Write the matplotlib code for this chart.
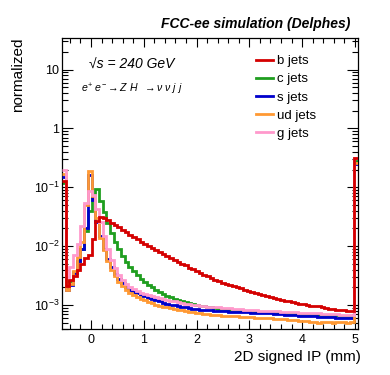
import numpy as np
import matplotlib
matplotlib.use("Agg")
import matplotlib.pyplot as plt
from matplotlib.ticker import FixedLocator, FixedFormatter, MultipleLocator

plt.rcParams['font.family'] = ['Liberation Sans', 'DejaVu Sans']
plt.rcParams['mathtext.fontset'] = 'custom'
plt.rcParams['mathtext.rm'] = 'Liberation Sans'
plt.rcParams['mathtext.it'] = 'Liberation Sans:italic'
plt.rcParams['mathtext.bf'] = 'Liberation Sans:bold'

# ---- data ----
x_min, x_max, n_bins = -0.55, 5.05, 80

b_jets = [0.13, 0.0021, 0.0027, 0.0031, 0.0040, 0.0050, 0.0062, 0.0072, 0.013, 0.027,
          0.031, 0.030, 0.028, 0.025, 0.023, 0.021, 0.019, 0.0172, 0.0156, 0.0143,
          0.0131, 0.0119, 0.0109, 0.0101, 0.0093, 0.0086, 0.0080, 0.0073, 0.0069, 0.0063,
          0.0059, 0.0054, 0.0050, 0.0047, 0.0043, 0.0041, 0.0038, 0.0035, 0.0033, 0.0031,
          0.0029, 0.0027, 0.0026, 0.0024, 0.0023, 0.0022, 0.0021, 0.0020, 0.00192, 0.00182,
          0.00175, 0.00166, 0.00160, 0.00152, 0.00148, 0.00141, 0.00137, 0.00132, 0.00126, 0.00124,
          0.00119, 0.00116, 0.00111, 0.00110, 0.00105, 0.00103, 0.00100, 0.00098, 0.00095, 0.00095,
          0.00091, 0.00090, 0.00087, 0.00087, 0.00084, 0.00082, 0.00081, 0.00079, 0.00078, 0.31]

c_jets = [0.12, 0.0020, 0.0026, 0.0036, 0.0055, 0.009, 0.018, 0.040, 0.065, 0.092,
          0.058, 0.038, 0.025, 0.017, 0.0118, 0.0088, 0.0068, 0.0054, 0.0045, 0.0038,
          0.0032, 0.0028, 0.0025, 0.0022, 0.0020, 0.00182, 0.00168, 0.00155, 0.00145, 0.00136,
          0.00128, 0.00122, 0.00116, 0.00111, 0.00107, 0.00104, 0.00100, 0.00097, 0.00095, 0.00093,
          0.00091, 0.00088, 0.00087, 0.00085, 0.00084, 0.00083, 0.00081, 0.00081, 0.00080, 0.00079,
          0.00078, 0.00078, 0.00077, 0.00077, 0.00076, 0.00076, 0.00075, 0.00075, 0.00074, 0.00073,
          0.00073, 0.00072, 0.00072, 0.00071, 0.00071, 0.00070, 0.00070, 0.00069, 0.00069, 0.00068,
          0.00068, 0.00068, 0.00067, 0.00067, 0.00067, 0.00066, 0.00066, 0.00066, 0.00065, 0.28]

s_jets = [0.15, 0.0018, 0.0022, 0.0035, 0.0056, 0.0090, 0.020, 0.16, 0.060, 0.026,
          0.0147, 0.0090, 0.0060, 0.0044, 0.0034, 0.0028, 0.0024, 0.0020, 0.00180, 0.00168,
          0.00158, 0.00148, 0.00140, 0.00132, 0.00126, 0.00120, 0.00115, 0.00110, 0.00106, 0.00102,
          0.00099, 0.00096, 0.00093, 0.00091, 0.00089, 0.00087, 0.00086, 0.00084, 0.00083, 0.00082,
          0.00081, 0.00080, 0.00079, 0.00079, 0.00078, 0.00077, 0.00077, 0.00076, 0.00076, 0.00075,
          0.00075, 0.00074, 0.00074, 0.00073, 0.00073, 0.00072, 0.00072, 0.00071, 0.00070, 0.00070,
          0.00069, 0.00068, 0.00068, 0.00067, 0.00066, 0.00065, 0.00065, 0.00064, 0.00064, 0.00063,
          0.00063, 0.00062, 0.00062, 0.00062, 0.00061, 0.00061, 0.00061, 0.00060, 0.00060, 0.25]

ud_jets = [0.17, 0.0018, 0.0023, 0.0038, 0.0065, 0.012, 0.050, 0.19, 0.070, 0.030,
           0.0140, 0.0085, 0.0055, 0.0040, 0.0031, 0.0025, 0.0021, 0.0018, 0.00160, 0.00148,
           0.00138, 0.00128, 0.00120, 0.00113, 0.00107, 0.00102, 0.00098, 0.00094, 0.00091, 0.00088,
           0.00085, 0.00083, 0.00081, 0.00079, 0.00077, 0.00076, 0.00074, 0.00073, 0.00071, 0.00070,
           0.00069, 0.00068, 0.00067, 0.00066, 0.00065, 0.00065, 0.00064, 0.00064, 0.00063, 0.00063,
           0.00062, 0.00062, 0.00061, 0.00061, 0.00061, 0.00060, 0.00060, 0.00059, 0.00058, 0.00057,
           0.00057, 0.00056, 0.00055, 0.00055, 0.00054, 0.00053, 0.00053, 0.00052, 0.00051, 0.00050,
           0.00051, 0.00052, 0.00051, 0.00050, 0.00051, 0.00052, 0.00051, 0.00050, 0.00051, 0.26]

g_jets = [0.20, 0.0030, 0.0045, 0.0070, 0.011, 0.022, 0.055, 0.085, 0.075, 0.042,
          0.026, 0.015, 0.0090, 0.0058, 0.0042, 0.0033, 0.0027, 0.0023, 0.0020, 0.00185,
          0.00172, 0.00162, 0.00153, 0.00146, 0.00140, 0.00135, 0.00130, 0.00126, 0.00122, 0.00118,
          0.00115, 0.00112, 0.00109, 0.00106, 0.00103, 0.00101, 0.00099, 0.00097, 0.00095, 0.00094,
          0.00093, 0.00092, 0.00091, 0.00090, 0.00089, 0.00088, 0.00087, 0.00086, 0.00085, 0.00084,
          0.00083, 0.00082, 0.00081, 0.00080, 0.00080, 0.00079, 0.00079, 0.00078, 0.00078, 0.00077,
          0.00077, 0.00076, 0.00076, 0.00075, 0.00074, 0.00074, 0.00073, 0.00073, 0.00072, 0.00072,
          0.00071, 0.00071, 0.00070, 0.00070, 0.00070, 0.00069, 0.00069, 0.00069, 0.00068, 0.32]

labels = ["b jets", "c jets", "s jets", "ud jets", "g jets"]
colors = ["#d40000", "#1f9e1f", "#0000cc", "#ff9933", "#ff99cc"]
series = [b_jets, c_jets, s_jets, ud_jets, g_jets]
draw_order = [1, 2, 3, 4, 0]

ytick_vals = [1e-3, 1e-2, 1e-1, 1, 10]
ytick_labels = [r"$10^{-3}$", r"$10^{-2}$", r"$10^{-1}$", "1", "10"]
xtick_vals = [0, 1, 2, 3, 4, 5]

# ---- figure ----
W, H = 390, 375
fig = plt.figure(figsize=(W / 100, H / 100), dpi=100)
ax = fig.add_axes([62 / W, 1 - 328.5 / H, (357.5 - 62) / W, (328.5 - 37.5) / H])

edges = np.linspace(x_min, x_max, n_bins + 1)
handles = {}
for i in draw_order:
    h = ax.stairs(series[i], edges, color=colors[i], lw=2.0, baseline=None,
                  label=labels[i], zorder=2 + draw_order.index(i))
    handles[i] = h

ax.set_yscale("log")
ax.set_xlim(x_min, x_max)
ax.set_ylim(4.0e-4, 35)

ax.yaxis.set_major_locator(FixedLocator(ytick_vals))
ax.yaxis.set_major_formatter(FixedFormatter(ytick_labels))
minors = [m * 10.0 ** e for e in range(-4, 2) for m in range(2, 10)]
ax.yaxis.set_minor_locator(FixedLocator(minors))
ax.xaxis.set_major_locator(FixedLocator(xtick_vals))
ax.xaxis.set_minor_locator(MultipleLocator(0.2))

ax.tick_params(which="both", direction="in", top=True, right=True, labelsize=9,
               colors="black")
ax.tick_params(axis="y", which="major", length=8, width=0.8, pad=2)
ax.tick_params(axis="y", which="minor", length=4.5, width=0.8)
ax.tick_params(axis="x", which="major", length=6.5, width=0.8, pad=4)
ax.tick_params(axis="x", which="minor", length=3.3, width=0.8)
for sp in ax.spines.values():
    sp.set_linewidth(0.9)

fig.text(361 / W, 1 - 357 / H, "2D signed IP (mm)", ha="right", va="center", fontsize=11)
fig.text(18 / W, 1 - 37 / H, "normalized", ha="center", va="top", rotation=90, fontsize=11)

fig.text(350 / W, 1 - 24 / H, "FCC-ee simulation (Delphes)", ha="right", va="center",
         fontsize=10, fontweight="bold", fontstyle="italic")
fig.text(89 / W, 1 - 65 / H, "√s = 240 GeV", ha="left", va="center", fontsize=10,
         fontstyle="italic")
fig.text(81 / W, 1 - 89 / H,
         r"$e^{+}\ e^{-} \rightarrow Z\ H\ \ \rightarrow \nu\ \nu\ j\ j$",
         ha="left", va="center", fontsize=7.6)

leg = ax.legend([handles[i] for i in range(5)], labels, loc="upper left",
                bbox_to_anchor=(256 / W, 1 - 55 / H), bbox_transform=fig.transFigure,
                frameon=False, fontsize=9.5, handlelength=1.3, handletextpad=0.3,
                labelspacing=0.45, borderpad=0, borderaxespad=0)
for line in leg.get_lines():
    line.set_linewidth(2.0)

fig.savefig("out.png", dpi=100)
